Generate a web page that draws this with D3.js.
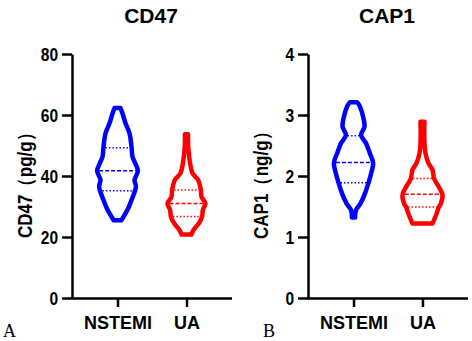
<!DOCTYPE html>
<html>
<head>
<meta charset="utf-8">
<script src="https://cdn.jsdelivr.net/npm/d3@7"></script>
<style>
body { margin: 0; background: #fff; }
text { font-family: "Liberation Sans", Arial, sans-serif; font-weight: bold; fill: #000; }
</style>
</head>
<body>
<svg width="472" height="341"></svg>
<script>
var groups = ["NSTEMI", "UA"];
var colors = ["#0000ff", "#ff0000"];

// CD47 panel: [value, relative density] along each violin outline
var cd47Ticks = [0, 20, 40, 60, 80];
var cd47Nstemi = [[25.5,0.2],[26.1,0.25],[28.9,0.5],[32.1,0.7],[36.5,0.92],[38.7,0.85],[41.7,1.02],[44.7,0.85],[46.3,0.75],[49.6,0.7],[54.0,0.6],[57.3,0.4],[60.5,0.25],[62.3,0.15]];
var cd47Ua = [[20.8,0.25],[22.3,0.35],[24.5,0.62],[26.7,0.78],[28.9,0.82],[31.0,0.95],[33.2,0.75],[35.4,0.72],[38.7,0.58],[40.9,0.3],[44.2,0.18],[48.5,0.1],[50.7,0.08],[53.7,0.08]];
var cd47Quartiles = [[35.2, 41.7, 49.3], [26.7, 31.0, 35.4]];

// CAP1 panel
var cap1Ticks = [0, 1, 2, 3, 4];
var cap1Nstemi = [[1.32,0.08],[1.44,0.12],[1.55,0.35],[1.72,0.58],[1.89,0.75],[2.04,0.88],[2.22,0.98],[2.37,0.82],[2.54,0.62],[2.67,0.38],[2.81,0.55],[2.97,0.48],[3.14,0.32],[3.21,0.18]];
var cap1Ua = [[1.22,0.5],[1.36,0.68],[1.49,0.82],[1.55,0.92],[1.69,1.0],[1.82,0.82],[1.96,0.58],[2.10,0.5],[2.21,0.3],[2.37,0.15],[2.54,0.1],[2.70,0.09],[2.89,0.1]];
var cap1Quartiles = [[1.89, 2.22, 2.66], [1.49, 1.70, 1.96]];

var svg = d3.select("svg");

function densityAt(profile, v) {
  for (var i = 1; i < profile.length; i++) {
    if (v <= profile[i][0]) {
      var a = profile[i-1], b = profile[i];
      var t = (v - a[0]) / (b[0] - a[0]);
      return a[1] + t * (b[1] - a[1]);
    }
  }
  return profile[profile.length-1][1];
}

function drawPanel(left, title, ylabel, ticks, violins, quarts, letter, letterX) {
  var g = svg.append("g").attr("transform", "translate(" + left + ",0)");
  var y = d3.scaleLinear().domain([0, ticks[ticks.length-1]]).range([298, 54]);
  var x = d3.scalePoint().domain(groups).range([0, 160]).padding(0.66);
  var w = d3.scaleLinear().domain([0, 1]).range([0, 20]);

  violins.forEach(function(profile, i) {
    var cx = x(groups[i]);
    var area = d3.area()
      .y(function(d) { return y(d[0]); })
      .x0(function(d) { return cx - w(d[1]); })
      .x1(function(d) { return cx + w(d[1]); })
      .curve(d3.curveCatmullRom);
    g.append("path")
      .attr("d", area(profile))
      .attr("fill", "none")
      .attr("stroke", colors[i])
      .attr("stroke-width", 4.5)
      .attr("stroke-linejoin", "round");

    quarts[i].forEach(function(q, j) {
      var hw = Math.max(w(densityAt(profile, q)) - 2, 0);
      g.append("line")
        .attr("x1", cx - hw).attr("x2", cx + hw)
        .attr("y1", y(q)).attr("y2", y(q))
        .attr("stroke", colors[i])
        .attr("stroke-width", 1.5)
        .attr("stroke-dasharray", j == 1 ? "4,2" : "1.5,2");
    });
  });

  var yAxis = g.append("g")
    .call(d3.axisLeft(y).tickValues(ticks).tickFormat(function(d) { return d; })
      .tickSize(10).tickSizeOuter(0));
  yAxis.selectAll("path, line").attr("stroke", "#000").attr("stroke-width", 2.5);
  yAxis.selectAll("text")
    .attr("x", -17).attr("dy", "0.36em")
    .attr("transform", "scale(0.82,1)")
    .style("font-size", "19px");

  var xAxis = g.append("g")
    .attr("transform", "translate(0,298)")
    .call(d3.axisBottom(x).tickSize(9).tickSizeOuter(0));
  xAxis.select(".domain").attr("d", "M0,0.5H160");
  xAxis.selectAll("path, line").attr("stroke", "#000").attr("stroke-width", 2.5);
  xAxis.selectAll("text").attr("y", 18).style("font-size", "18px");

  g.append("text")
    .attr("x", 79).attr("y", 23)
    .attr("text-anchor", "middle")
    .style("font-size", "21px")
    .text(title);

  g.append("text")
    .attr("transform", "translate(-40,181) rotate(-90) scale(0.85,1)")
    .attr("text-anchor", "middle")
    .style("font-size", "20px")
    .text(ylabel);

  svg.append("text")
    .attr("x", letterX).attr("y", 337)
    .style("font-family", "'Liberation Serif', 'Times New Roman', serif")
    .style("font-weight", "normal")
    .style("font-size", "18px")
    .text(letter);
}

drawPanel(72, "CD47", "CD47（pg/g）", cd47Ticks, [cd47Nstemi, cd47Ua], cd47Quartiles, "A", 3);
drawPanel(308, "CAP1", "CAP1（ng/g）", cap1Ticks, [cap1Nstemi, cap1Ua], cap1Quartiles, "B", 263);
</script>
</body>
</html>
